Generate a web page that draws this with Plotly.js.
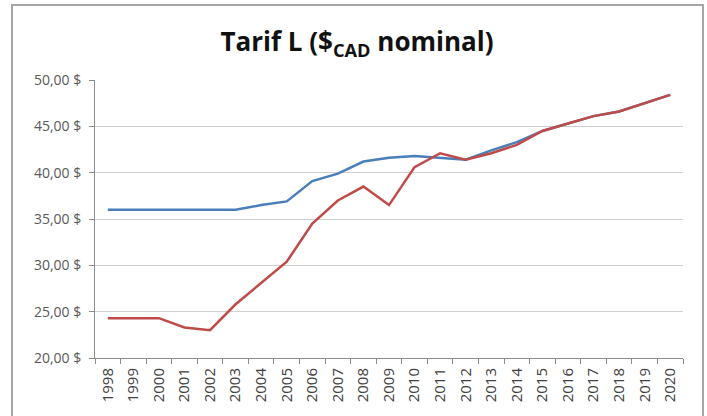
<!DOCTYPE html>
<html>
<head>
<meta charset="utf-8">
<script src="https://cdn.plot.ly/plotly-3.0.1.min.js"></script>
<style>
  html, body { margin: 0; padding: 0; background: #fff; }
  #wrap { position: relative; width: 707px; height: 416px; }
  #chart { width: 707px; height: 416px; }
  #frame { position: absolute; left: 11px; top: 4px; width: 693px; height: 420px;
           border: 2px solid #a6a6a6; pointer-events: none; box-sizing: border-box; }
</style>
</head>
<body>
<div id="wrap">
  <div id="chart"></div>
  <div id="frame"></div>
</div>
<script>
const years = ["1998","1999","2000","2001","2002","2003","2004","2005","2006","2007","2008","2009",
               "2010","2011","2012","2013","2014","2015","2016","2017","2018","2019","2020"];
const blueValues = [36.0, 36.0, 36.0, 36.0, 36.0, 36.0, 36.5, 36.9, 39.1, 39.9, 41.2, 41.6,
                    41.8, 41.6, 41.4, 42.4, 43.3, 44.5, 45.3, 46.1, 46.6, 47.5, 48.4];
const redValues  = [24.3, 24.3, 24.3, 23.3, 23.0, 25.8, 28.1, 30.4, 34.5, 37.0, 38.5, 36.5,
                    40.6, 42.1, 41.4, 42.1, 43.0, 44.5, 45.3, 46.1, 46.6, 47.5, 48.4];
const yTickVals = [20, 25, 30, 35, 40, 45, 50];
const yTickText = ["20,00 $", "25,00 $", "30,00 $", "35,00 $", "40,00 $", "45,00 $", "50,00 $"];

const traces = [
  { x: years, y: blueValues, type: "scatter", mode: "lines",
    line: { color: "#4a7ebb", width: 2.5 }, hoverinfo: "skip" },
  { x: years, y: redValues, type: "scatter", mode: "lines",
    line: { color: "#be4b48", width: 2.5 }, hoverinfo: "skip" }
];

const layout = {
  width: 707, height: 416,
  margin: { l: 95, r: 24, t: 80, b: 58 },
  paper_bgcolor: "#ffffff", plot_bgcolor: "#ffffff",
  showlegend: false,
  title: {
    text: "<b>Tarif L ($<sub>CAD</sub> nominal)</b>",
    font: { family: "Open Sans", size: 26, color: "#111111" },
    x: 0.505, xanchor: "center", y: 0.899, yanchor: "middle"
  },
  xaxis: {
    type: "category",
    range: [-0.5, 22.5],
    tickson: "boundaries",
    ticks: "outside", ticklen: 5, tickcolor: "#8c8c8c", tickwidth: 1,
    showline: true, linecolor: "#8c8c8c", linewidth: 1,
    showgrid: false, zeroline: false,
    tickangle: -90,
    ticklabelstandoff: 3,
    tickfont: { family: "Open Sans", size: 15, color: "#404040" }
  },
  yaxis: {
    range: [20, 50],
    tickvals: yTickVals, ticktext: yTickText,
    ticks: "outside", ticklen: 5, tickcolor: "#8c8c8c",
    showline: true, linecolor: "#8c8c8c", linewidth: 1,
    showgrid: true, gridcolor: "#cfcfcf", gridwidth: 1,
    zeroline: false,
    ticklabelstandoff: 5,
    tickfont: { family: "Open Sans", size: 14, color: "#595959" }
  }
};

Plotly.newPlot("chart", traces, layout, { staticPlot: true, displayModeBar: false });
</script>
</body>
</html>
